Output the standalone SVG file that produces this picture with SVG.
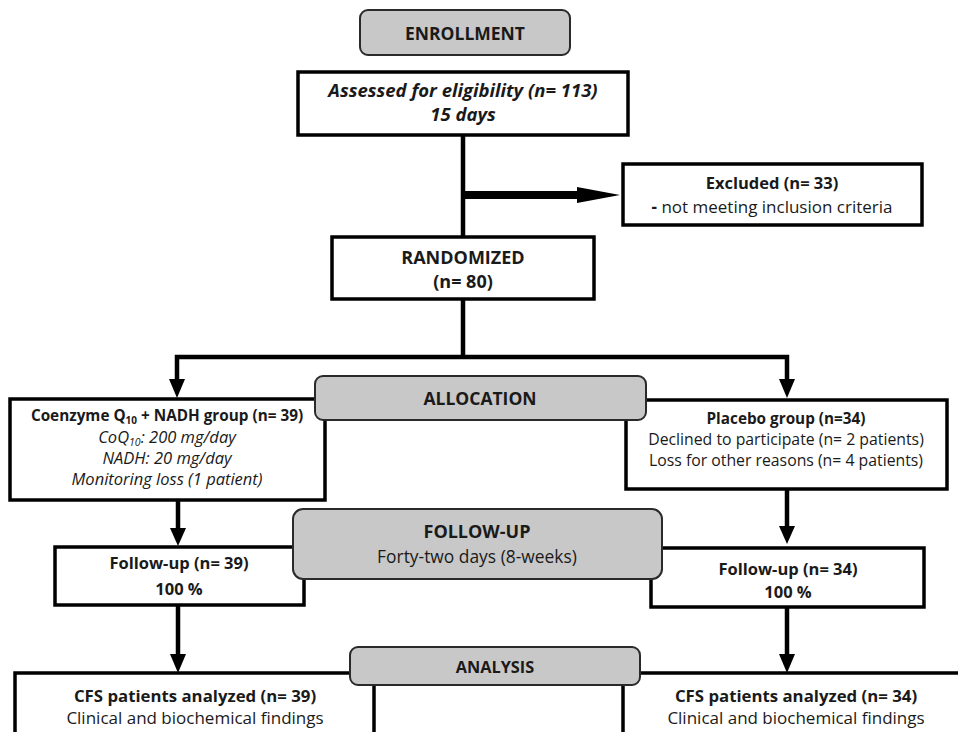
<svg xmlns="http://www.w3.org/2000/svg" width="958" height="732" viewBox="0 0 958 732">
<style>
text{font-family:"Open Sans","Liberation Sans",sans-serif;fill:#1a1a1a;text-anchor:middle}
.b{font-weight:bold}
.i{font-style:italic}
.box{fill:#fff;stroke:#000;stroke-width:3.5}
.hdr{fill:#c8c8c8;stroke:#2a2a2a;stroke-width:2}
.ln{stroke:#000;stroke-width:4.5;fill:none}
.ah{fill:#000}
</style>
<rect width="958" height="732" fill="#fff"/>
<g id="connectors">
<line class="ln" x1="463" y1="135" x2="463" y2="238"/>
<line x1="463" y1="195" x2="580" y2="195" stroke="#000" stroke-width="8"/>
<polygon class="ah" points="577,187 620,195 577,203"/>
<line class="ln" x1="463" y1="299" x2="463" y2="358"/>
<polyline class="ln" points="177,382 177,357 787,357 787,382"/>
<polygon class="ah" points="169,379 185,379 177,398"/>
<polygon class="ah" points="779,379 795,379 787,398"/>
<line class="ln" x1="178" y1="500" x2="178" y2="530"/>
<polygon class="ah" points="170,528 186,528 178,546"/>
<line class="ln" x1="787" y1="489" x2="787" y2="528"/>
<polygon class="ah" points="779,526 795,526 787,544"/>
<line class="ln" x1="178" y1="605" x2="178" y2="656"/>
<polygon class="ah" points="170,654 186,654 178,673"/>
<line class="ln" x1="787" y1="607" x2="787" y2="656"/>
<polygon class="ah" points="779,654 795,654 787,673"/>
</g>
<g id="enrollment">
<rect class="hdr" x="360" y="10" width="210" height="45" rx="8"/>
<text class="b" x="465" y="40" style="font-size:17.5px">ENROLLMENT</text>
</g>
<g id="assessed">
<rect class="box" x="298" y="72" width="330" height="63"/>
<text class="b i" x="463" y="97" style="font-size:18.5px">Assessed for eligibility (n= 113)</text>
<text class="b i" x="463" y="121" style="font-size:18.5px">15 days</text>
</g>
<g id="excluded">
<rect class="box" x="623" y="164" width="299" height="61"/>
<text class="b" x="772" y="189" style="font-size:16.5px">Excluded (n= 33)</text>
<text x="772" y="213" style="font-size:17px"><tspan class="b">-</tspan> not meeting inclusion criteria</text>
</g>
<g id="randomized">
<rect class="box" x="332" y="237" width="262" height="62"/>
<text class="b" x="463" y="264" style="font-size:18px">RANDOMIZED</text>
<text class="b" x="463" y="288" style="font-size:18px">(n= 80)</text>
</g>
<g id="coenzyme">
<rect class="box" x="10" y="399" width="315" height="101"/>
<text class="b" x="167" y="421" style="font-size:15.3px">Coenzyme Q<tspan style="font-size:10px" dy="3">10</tspan><tspan dy="-3"> + NADH group (n= 39)</tspan></text>
<text class="i" x="167" y="443" style="font-size:16.5px">CoQ<tspan style="font-size:10.5px" dy="3">10</tspan><tspan dy="-3">: 200 mg/day</tspan></text>
<text class="i" x="167" y="464" style="font-size:16.5px">NADH: 20 mg/day</text>
<text class="i" x="167" y="485" style="font-size:16.5px">Monitoring loss (1 patient)</text>
</g>
<g id="placebo">
<rect class="box" x="626" y="400" width="321" height="89"/>
<text class="b" x="786" y="424" style="font-size:15.3px">Placebo group (n=34)</text>
<text x="786" y="445" style="font-size:15.8px">Declined to participate (n= 2 patients)</text>
<text x="786" y="466" style="font-size:15.8px">Loss for other reasons (n= 4 patients)</text>
</g>
<g id="allocation">
<rect class="hdr" x="315" y="376" width="331" height="44" rx="8"/>
<text class="b" x="480" y="405" style="font-size:17.5px">ALLOCATION</text>
</g>
<g id="followup-left">
<rect class="box" x="55" y="547" width="249" height="58"/>
<text class="b" x="179" y="569" style="font-size:16.5px">Follow-up (n= 39)</text>
<text class="b" x="179" y="595" style="font-size:16.5px">100 %</text>
</g>
<g id="followup-right">
<rect class="box" x="651" y="548" width="273" height="59"/>
<text class="b" x="788" y="575" style="font-size:16.5px">Follow-up (n= 34)</text>
<text class="b" x="788" y="598" style="font-size:16.5px">100 %</text>
</g>
<g id="followup">
<rect class="hdr" x="293" y="509" width="369" height="70" rx="10"/>
<text class="b" x="477" y="538" style="font-size:18px">FOLLOW-UP</text>
<text x="477" y="563" style="font-size:17.4px">Forty-two days (8-weeks)</text>
</g>
<g id="cfs-left">
<rect class="box" x="15" y="673" width="359" height="70"/>
<text class="b" x="195" y="702" style="font-size:16.8px">CFS patients analyzed (n= 39)</text>
<text x="195" y="724" style="font-size:17px">Clinical and biochemical findings</text>
</g>
<g id="cfs-right">
<rect class="box" x="623" y="673" width="350" height="70"/>
<text class="b" x="796" y="702" style="font-size:16.8px">CFS patients analyzed (n= 34)</text>
<text x="796" y="724" style="font-size:17px">Clinical and biochemical findings</text>
</g>
<g id="analysis">
<rect class="hdr" x="350" y="647" width="290" height="38" rx="8"/>
<text class="b" x="495" y="673" style="font-size:16.3px">ANALYSIS</text>
</g>
</svg>
